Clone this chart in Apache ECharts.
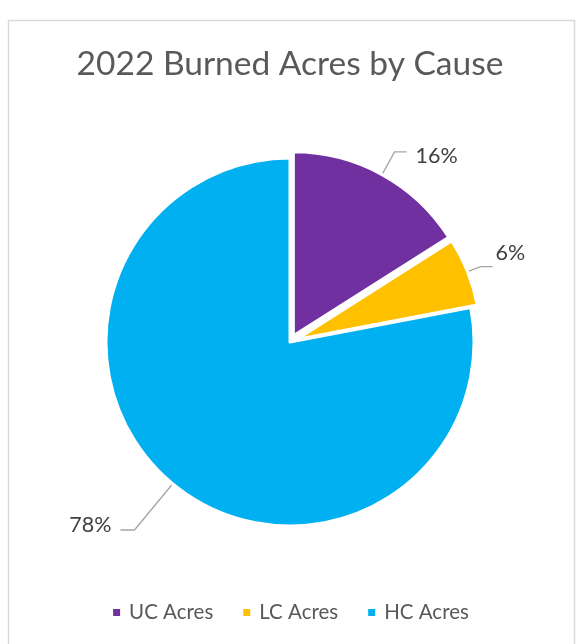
<!DOCTYPE html>
<html>
<head>
<meta charset="utf-8">
<script src="https://cdn.jsdelivr.net/npm/echarts@6/dist/echarts.min.js"></script>
<style>
html,body{margin:0;padding:0;background:#fff;}
#c{width:580px;height:644px;}
</style>
</head>
<body>
<div id="c"></div>
<script>
const titleText = '2022 Burned Acres by Cause';
const categories = ['UC Acres', 'LC Acres', 'HC Acres'];
const values = [16, 6, 78];
const colors = ['#7030A0', '#FFC000', '#00B0F0'];
const exploded = [true, true, false];

const FONT = 'Lato';
const chart = echarts.init(document.getElementById('c'), null, {renderer: 'canvas'});

const lineCfg = [
  {length: 26, length2: 12},
  {length: 14, length2: 12},
  {length: 60, length2: 14}
];
const labelShift = [
  {dx: 4, dy: 4},
  {dx: -2, dy: -13},
  {dx: -4, dy: -5}
];

chart.setOption({
  animation: false,
  backgroundColor: '#ffffff',
  graphic: [{
    type: 'rect',
    shape: {x: 8.5, y: 20.5, width: 566, height: 640},
    style: {fill: 'none', stroke: '#d9d9d9', lineWidth: 1.5},
    silent: true
  }],
  title: {
    text: titleText,
    left: 'center',
    top: 42,
    textStyle: {fontFamily: FONT, fontSize: 33.5, fontWeight: 'normal', color: '#595959'}
  },
  legend: {
    bottom: 16,
    left: 'center',
    itemWidth: 9,
    itemHeight: 9,
    itemGap: 28,
    icon: 'rect',
    data: categories,
    textStyle: {fontFamily: FONT, fontSize: 20.5, color: '#595959', padding: [0, 0, 0, 3]}
  },
  series: [{
    type: 'pie',
    center: [290, 342],
    radius: 184,
    startAngle: 90,
    clockwise: true,
    selectedMode: 'multiple',
    selectedOffset: 7,
    avoidLabelOverlap: false,
    itemStyle: {borderColor: '#ffffff', borderWidth: 3},
    label: {
      show: true,
      formatter: '{d}%',
      fontFamily: FONT,
      fontSize: 21.5,
      color: '#404040'
    },
    labelLine: {show: true, lineStyle: {color: '#a6a6a6', width: 1.3}},
    labelLayout: function (p) { return labelShift[p.dataIndex]; },
    emphasis: {disabled: true},
    data: categories.map((n, i) => ({
      name: n,
      value: values[i],
      selected: exploded[i],
      itemStyle: {color: colors[i]},
      labelLine: lineCfg[i]
    }))
  }]
});
</script>
</body>
</html>
